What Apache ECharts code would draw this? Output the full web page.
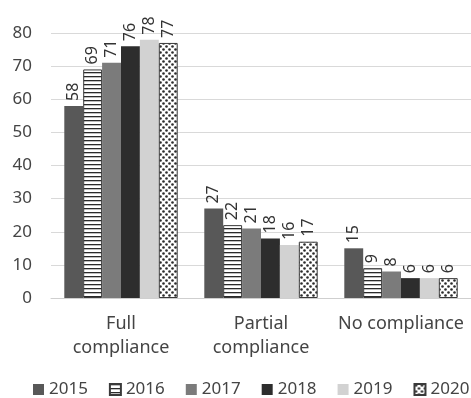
<!DOCTYPE html>
<html>
<head>
<meta charset="utf-8">
<script src="https://cdn.jsdelivr.net/npm/echarts@6/dist/echarts.min.js"></script>
<style>
  html, body { margin: 0; padding: 0; background: #fff; }
  #chart { width: 471px; height: 398px; }
</style>
</head>
<body>
<div id="chart"></div>
<script>
// Compliance levels by year (percent)
const categories = ['Full\ncompliance', 'Partial\ncompliance', 'No compliance'];
const years = ['2015', '2016', '2017', '2018', '2019', '2020'];
const values2015 = [58, 27, 15];
const values2016 = [69, 22, 9];
const values2017 = [71, 21, 8];
const values2018 = [76, 18, 6];
const values2019 = [78, 16, 6];
const values2020 = [77, 17, 6];
const yTicks = [0, 10, 20, 30, 40, 50, 60, 70, 80];

// Horizontal stripe fill
function stripePattern() {
  const c = document.createElement('canvas');
  c.width = 4; c.height = 4;
  const g = c.getContext('2d');
  g.fillStyle = '#ffffff'; g.fillRect(0, 0, 4, 4);
  g.fillStyle = '#2a2a2a'; g.fillRect(0, 0, 4, 1.3);
  return { image: c, repeat: 'repeat' };
}
// Dotted fill
function dotPattern() {
  const c = document.createElement('canvas');
  c.width = 6; c.height = 6;
  const g = c.getContext('2d');
  g.fillStyle = '#ffffff'; g.fillRect(0, 0, 6, 6);
  g.fillStyle = '#2a2a2a';
  g.beginPath(); g.arc(1.5, 1.5, 1.3, 0, Math.PI * 2); g.fill();
  g.beginPath(); g.arc(4.5, 4.5, 1.3, 0, Math.PI * 2); g.fill();
  return { image: c, repeat: 'repeat' };
}

const seriesValues = [values2015, values2016, values2017, values2018, values2019, values2020];
const fills = ['#585858', stripePattern(), '#7b7b7b', '#2d2d2d', '#d2d2d2', dotPattern()];
const borders = [null, '#3a3a3a', null, null, null, '#3a3a3a'];

const chart = echarts.init(document.getElementById('chart'), null, { renderer: 'canvas' });
const fontFamily = '"Noto Sans", "Open Sans", sans-serif';

chart.setOption({
  animation: false,
  textStyle: { fontFamily: fontFamily },
  grid: { left: 51, right: 0, top: 33, bottom: 100 },
  legend: {
    bottom: 0,
    left: 33,
    width: 438,
    padding: 0,
    itemWidth: 11,
    itemHeight: 11,
    itemGap: 21,
    icon: 'rect',
    textStyle: { fontSize: 17, color: '#444', fontFamily: fontFamily },
    data: years
  },
  xAxis: {
    type: 'category',
    data: categories,
    axisLine: { show: true, lineStyle: { color: '#cfcfcf', width: 1 } },
    axisTick: { show: false },
    axisLabel: { fontSize: 18, color: '#444', lineHeight: 24, margin: 14, interval: 0 }
  },
  yAxis: {
    type: 'value',
    min: 0,
    max: 80,
    interval: 10,
    axisLine: { show: false },
    axisTick: { show: false },
    axisLabel: {
      fontSize: 17, color: '#444', margin: 19,
      formatter: v => (yTicks.indexOf(v) >= 0 ? String(v) : '')
    },
    splitLine: { lineStyle: { color: '#d9d9d9', width: 1 } }
  },
  series: years.map((y, i) => ({
    name: y,
    type: 'bar',
    data: seriesValues[i],
    barGap: '0%',
    barCategoryGap: '19%',
    itemStyle: {
      color: fills[i],
      borderColor: borders[i] || undefined,
      borderWidth: borders[i] ? 1 : 0
    },
    label: {
      show: true,
      position: 'top',
      rotate: 90,
      align: 'left',
      verticalAlign: 'middle',
      distance: 5,
      fontSize: 16,
      color: '#333'
    }
  }))
});
</script>
</body>
</html>
